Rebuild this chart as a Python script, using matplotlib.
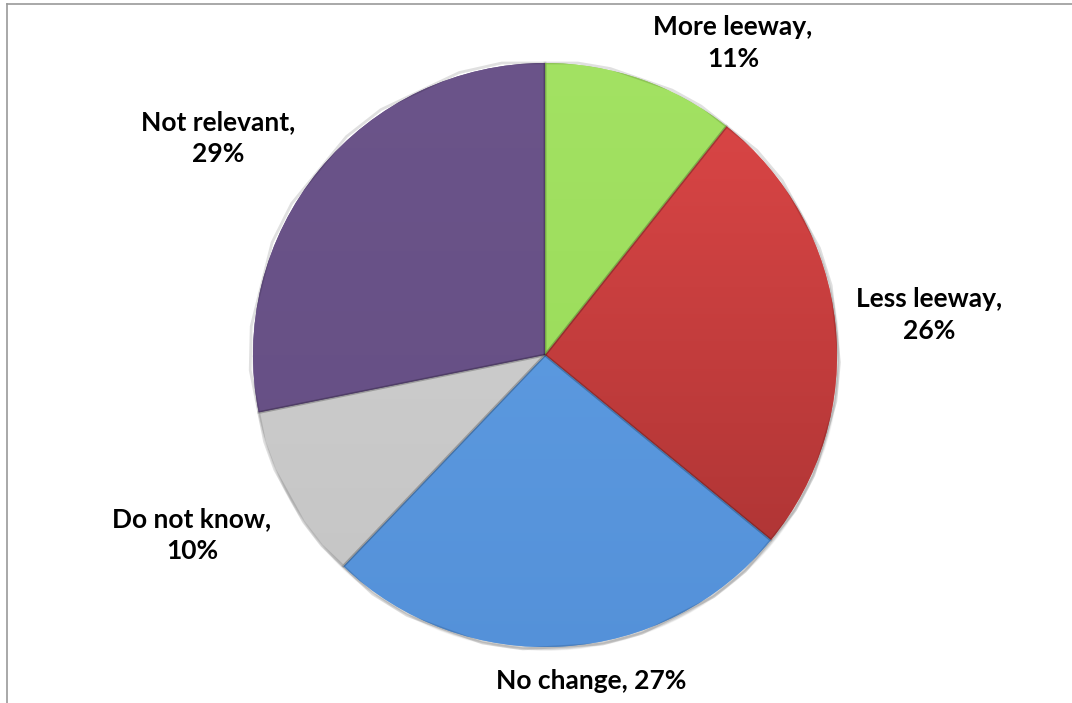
import numpy as np
import matplotlib
matplotlib.use('Agg')
import matplotlib.pyplot as plt
from matplotlib.colors import LinearSegmentedColormap

# answers, clockwise from 12 o'clock
categories = ['More leeway', 'Less leeway', 'No change', 'Do not know', 'Not relevant']
shares = [11, 26, 27, 10, 29]
label_text = ['More leeway,\n11%', 'Less leeway,\n26%', 'No change, 27%',
              'Do not know,\n10%', 'Not relevant,\n29%']

# slice colours: (light, dark) for a soft top-to-bottom shading
shades = [('#a3e263', '#97d957'),
          ('#e04848', '#a53131'),
          ('#62a0e4', '#5491d9'),
          ('#d2d2d2', '#c4c4c4'),
          ('#6b548a', '#654e83')]
explode = [0, 0, 0, 0.022, 0]

# label anchors in pixels (x from left, y from top)
label_pos = [(733, 43), (929, 315), (591, 681), (192, 535), (218, 138)]

W, H = 1072, 703
CX, CY, R = 545, 355, 292

fig = plt.figure(figsize=(W / 100, H / 100), dpi=100)
ax = fig.add_axes([0, 0, 1, 1])

# faint drop shadow below the rim
for k, a in zip(range(4, 0, -1), [0.03, 0.04, 0.05, 0.06]):
    ax.add_patch(plt.Circle((CX + 1, H - CY - 2), R + k * 0.5, color='black',
                            alpha=a, lw=0, zorder=0))

wedges, _ = ax.pie(shares, startangle=90, counterclock=False, explode=explode,
                   center=(CX, H - CY), radius=R, frame=True,
                   colors=[s[0] for s in shades],
                   wedgeprops=dict(linewidth=0, zorder=1))
ax.set_xlim(0, W)
ax.set_ylim(0, H)
ax.set_aspect('equal')
ax.axis('off')

# vertical gradient inside each slice
yy = np.linspace(0, 1, 256).reshape(-1, 1)
for w, (c1, c2) in zip(wedges, shades):
    cmap = LinearSegmentedColormap.from_list('g', [c2, c1])
    im = ax.imshow(yy, cmap=cmap, origin='lower', aspect='auto',
                   extent=(CX - R - 20, CX + R + 20, H - CY - R - 20, H - CY + R + 20),
                   zorder=2)
    im.set_clip_path(w)
    # bevelled edge
    ax.add_patch(plt.Polygon(w.get_path().vertices, closed=True, fill=False,
                             transform=w.get_transform(), edgecolor='black',
                             alpha=0.12, lw=2.0, zorder=3))

for txt, (px, py) in zip(label_text, label_pos):
    ax.text(px, H - py, txt, ha='center', va='center', fontsize=19,
            fontweight='bold', family=['Lato', 'DejaVu Sans'],
            linespacing=1.4, color='black', zorder=5)

# plot-area border (top and left edges visible)
ax.plot([7, W], [H - 4, H - 4], color='#9a9a9a', lw=1.2, zorder=6)
ax.plot([7, 7], [H - 4, 0], color='#9a9a9a', lw=1.2, zorder=6)

fig.savefig('out.png', dpi=100, facecolor='white')
